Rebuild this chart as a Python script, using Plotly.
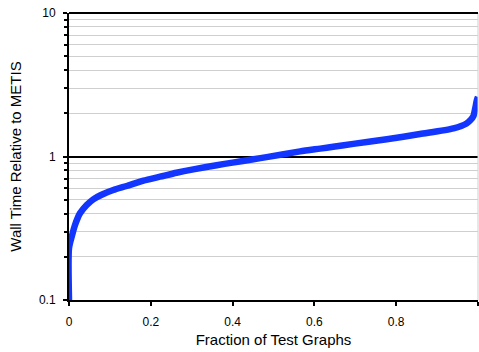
import plotly.graph_objects as go

# Fraction of test graphs (x) and wall time relative to METIS (y)
fraction = [0.0, 0.0, 0.0066, 0.0147, 0.0269, 0.0433, 0.0594, 0.0839, 0.1083,
            0.141, 0.182, 0.2225, 0.263, 0.304, 0.361, 0.40, 0.451, 0.483,
            0.565, 0.614, 0.646, 0.695, 0.777, 0.858, 0.94, 0.972,
            0.982, 0.989, 0.993, 0.997, 1.0]
ratio = [0.1, 0.23, 0.276, 0.333, 0.402, 0.459, 0.503, 0.548, 0.584,
         0.623, 0.679, 0.723, 0.771, 0.814, 0.870, 0.906, 0.956, 0.99,
         1.085, 1.135, 1.17, 1.225, 1.318, 1.435, 1.572, 1.70,
         1.80, 1.92, 2.15, 2.45, 2.6]

x_ticks = [0, 0.2, 0.4, 0.6, 0.8, 1.0]
x_tick_text = ["0", "0.2", "0.4", "0.6", "0.8", "1"]
y_ticks = [0.1, 1, 10]
y_tick_text = ["0.1", "1", "10"]
y_minor = [0.2, 0.3, 0.4, 0.5, 0.6, 0.7, 0.8, 0.9, 2, 3, 4, 5, 6, 7, 8, 9]

FONT = "Liberation Sans, Arial, sans-serif"

fig = go.Figure()
fig.add_trace(go.Scatter(
    x=fraction, y=ratio, mode="lines",
    line=dict(color="#1236ff", width=6.5, shape="spline", smoothing=0.7),
    showlegend=False,
))

fig.update_layout(
    width=479, height=352,
    margin=dict(l=69, r=1, t=13, b=52),
    paper_bgcolor="white", plot_bgcolor="white",
    font=dict(family=FONT, size=12, color="black"),
    xaxis=dict(
        range=[0, 1], tickvals=x_ticks, ticktext=x_tick_text,
        ticks="outside", ticklen=4, tickwidth=1.5, tickcolor="black",
        ticklabelstandoff=6,
        showline=True, linecolor="black", linewidth=2,
        showgrid=False, zeroline=False,
        title=dict(text="Fraction of Test Graphs", font=dict(size=15), standoff=6),
    ),
    yaxis=dict(
        type="log", range=[-1, 1], tickvals=y_ticks, ticktext=y_tick_text,
        ticks="outside", ticklen=4, tickwidth=1.5, tickcolor="black",
        ticklabelstandoff=5,
        showline=True, linecolor="black", linewidth=2,
        showgrid=True, gridcolor="black", gridwidth=2, zeroline=False,
        minor=dict(tickvals=y_minor, ticks="outside", ticklen=3, tickcolor="black",
                   showgrid=True, gridcolor="#cfcfcf", gridwidth=1),
        title=dict(text="Wall Time Relative to METIS", font=dict(size=15), standoff=14),
    ),
    shapes=[
        dict(type="line", xref="paper", yref="paper", x0=1, x1=1, y0=0, y1=1,
             line=dict(color="#cfcfcf", width=1)),
        dict(type="line", xref="paper", yref="paper", x0=0, x1=1, y0=1, y1=1,
             line=dict(color="black", width=2)),
    ],
)

fig.write_html("out.html")
